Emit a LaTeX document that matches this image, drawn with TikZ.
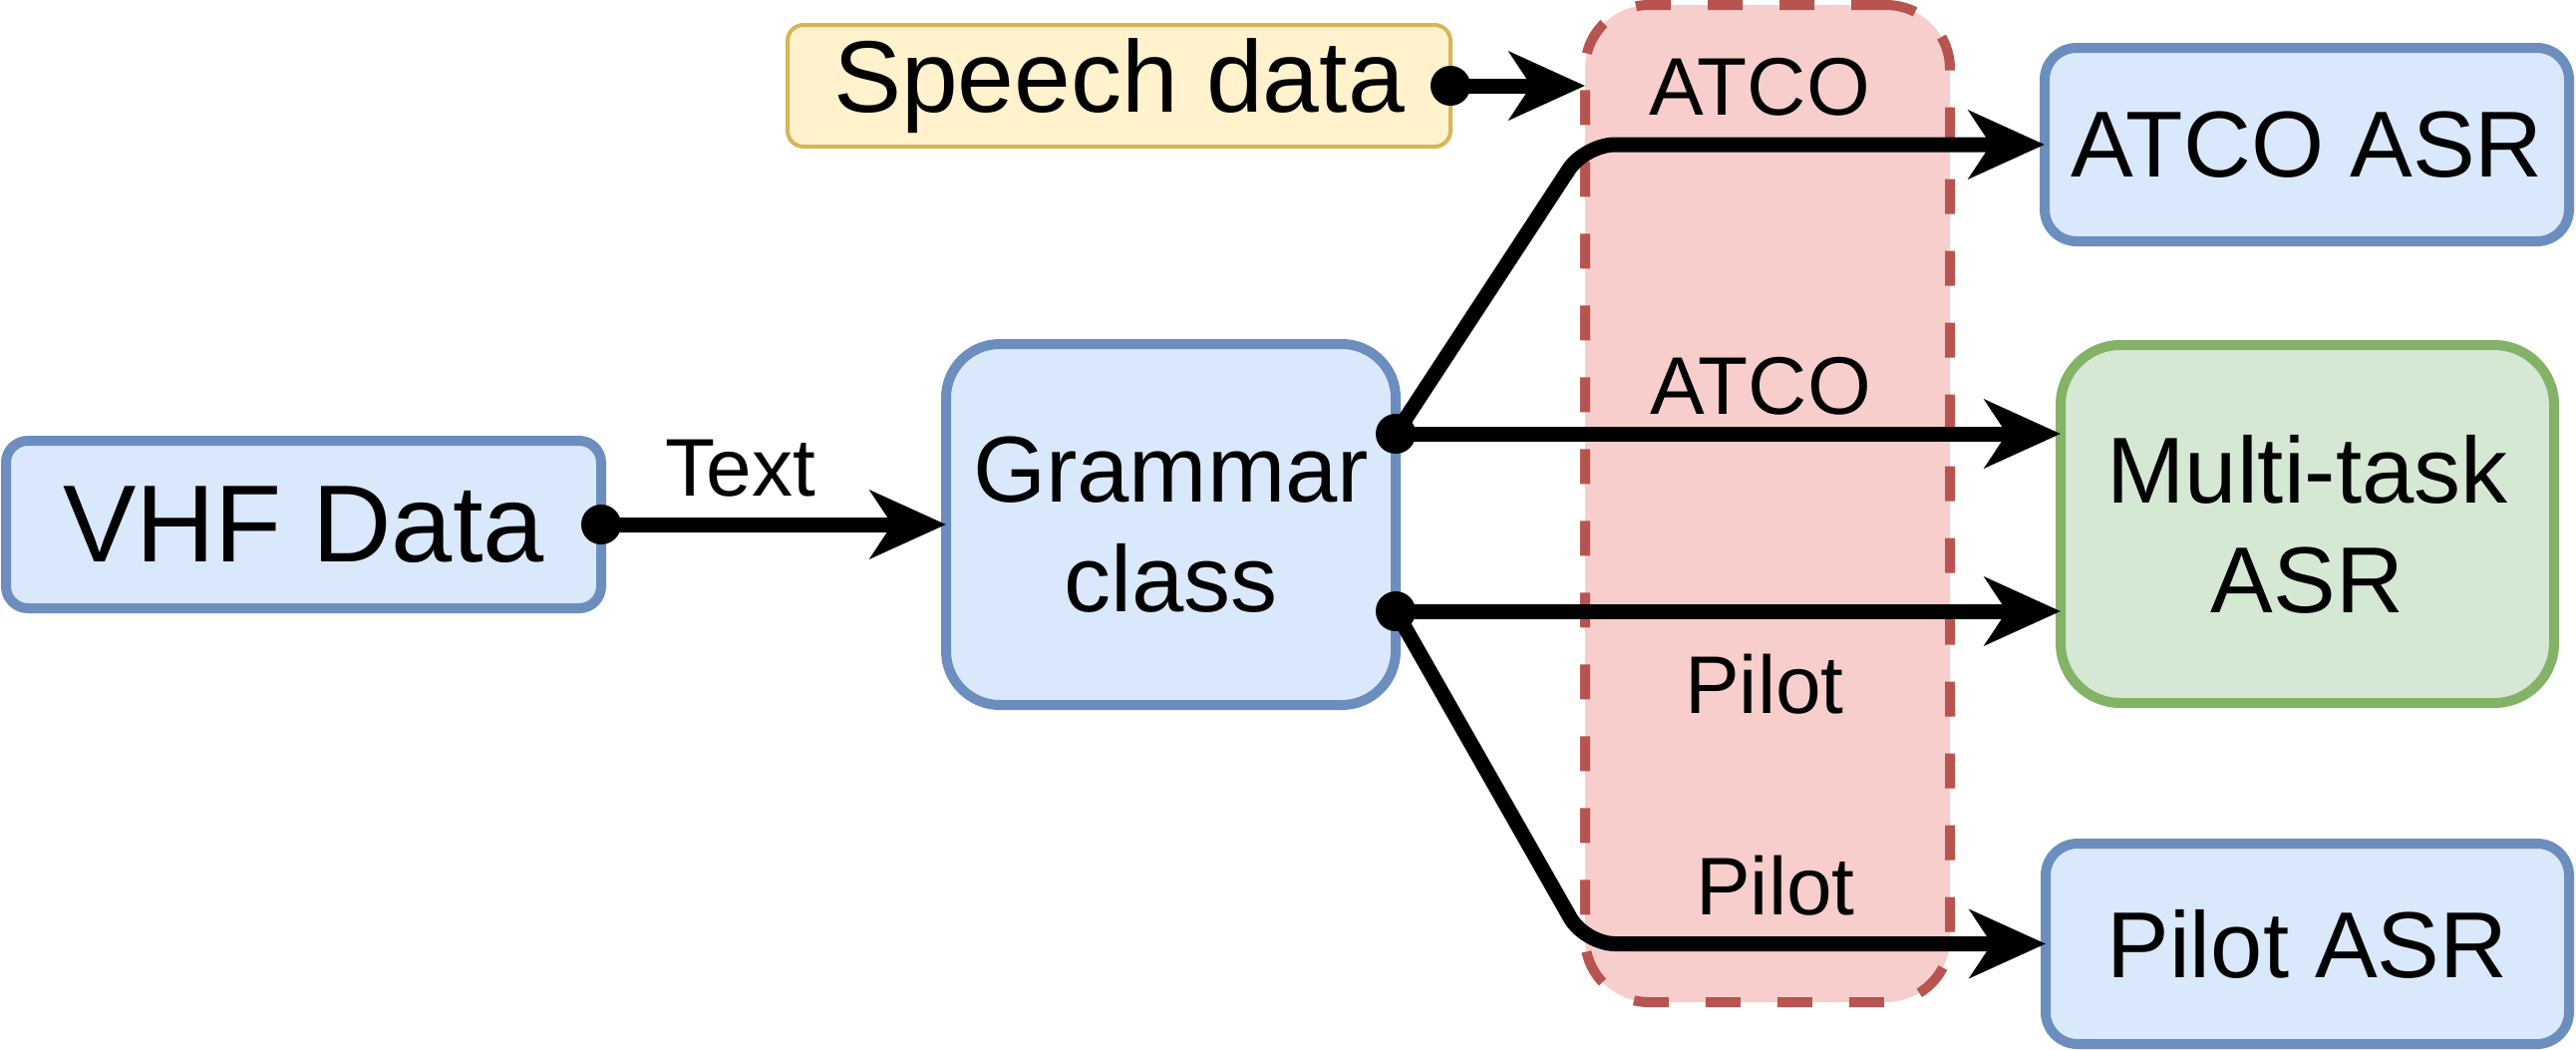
\documentclass[tikz,border=0pt]{standalone}
\usepackage{fontspec}
\setmainfont{Liberation Sans}
\usetikzlibrary{arrows.meta}
\definecolor{bluefill}{HTML}{DAE8FC}
\definecolor{blueline}{HTML}{6C8EBF}
\definecolor{greenfill}{HTML}{D5E8D4}
\definecolor{greenline}{HTML}{82B366}
\definecolor{yellowfill}{HTML}{FFF2CC}
\definecolor{yellowline}{HTML}{D6B656}
\definecolor{redfill}{HTML}{F8CECC}
\definecolor{redline}{HTML}{B85450}
\begin{document}
\begin{tikzpicture}[x=0.25pt,y={(0pt,-0.25pt)},
  box/.style={draw=blueline, fill=bluefill, line width=2.5pt, inner sep=0pt, outer sep=0pt, align=center},
  bigfont/.style={font=\fontsize{23.5}{27.5}\selectfont},
  conn/.style={line width=3.75pt, -{Stealth[length=19pt,width=17pt,inset=5.5pt]}},
  dot/.style={circle, fill=black, inner sep=0pt, minimum size=10pt},
  lbl/.style={font=\fontsize{20.5}{24}\selectfont, anchor=base, inner sep=0pt}]
\useasboundingbox (0,0) rectangle (2584,1052);

% dashed region
\node[draw=redline, fill=redfill, line width=2.5pt, dash pattern=on 8.75pt off 9.25pt,
      rounded corners=16pt, minimum width=91.5pt, minimum height=250pt,
      inner sep=0pt, outer sep=0pt] (region) at (1773,505) {};

% boxes
\node[box, minimum width=149.25pt, minimum height=42pt, rounded corners=5.5pt,
      font=\fontsize{27.5}{33}\selectfont] (vhf) at (304.5,526) {VHF Data};
\node[box, bigfont, minimum width=112.75pt, minimum height=90.5pt, rounded corners=13.5pt]
      (gram) at (1174.5,526) {Grammar\\class};
\node[box, draw=yellowline, fill=yellowfill, line width=1pt, minimum width=166.25pt,
      minimum height=30.5pt, rounded corners=4pt, font=\fontsize{25.5}{30}\selectfont]
      (speech) at (1122.5,86) {Speech data};
\node[box, bigfont, minimum width=131.5pt, minimum height=48.5pt, rounded corners=8pt]
      (atcoasr) at (2314,145) {ATCO ASR};
\node[box, bigfont, draw=greenline, fill=greenfill, minimum width=123.75pt,
      minimum height=89.75pt, rounded corners=15pt] (multi) at (2314.5,525.5) {Multi-task\\ASR};
\node[box, bigfont, minimum width=131.25pt, minimum height=50.25pt, rounded corners=8pt]
      (pilotasr) at (2314.5,946.5) {Pilot ASR};

\coordinate (g1) at ([yshift=22.75pt]gram.east);
\coordinate (g2) at ([yshift=-21.75pt]gram.east);

% connectors
\draw[conn] (vhf.east) -- (gram.west);
\draw[conn] (speech.east) -- (speech.east -| region.west);
\draw[conn, rounded corners=7.5pt] (g1) -- (region.west |- atcoasr.west) -- (atcoasr.west);
\draw[conn] (g1) -- (g1 -| multi.west);
\draw[conn] (g2) -- (g2 -| multi.west);
\draw[conn, rounded corners=7.5pt] (g2) -- (region.west |- pilotasr.west) -- (pilotasr.west);

% dots
\node[dot] (d1) at (vhf.east) {};
\node[dot] (d2) at (speech.east) {};
\node[dot] (d3) at (g1) {};
\node[dot] (d4) at (g2) {};

% labels
\node[lbl] (ltext) at (743,497) {Text};
\node[lbl] (l1) at (1765,115) {ATCO};
\node[lbl] (l2) at (1766,415) {ATCO};
\node[lbl] (l3) at (1770,715) {Pilot};
\node[lbl] (l4) at (1781,917) {Pilot};
\end{tikzpicture}
\end{document}
